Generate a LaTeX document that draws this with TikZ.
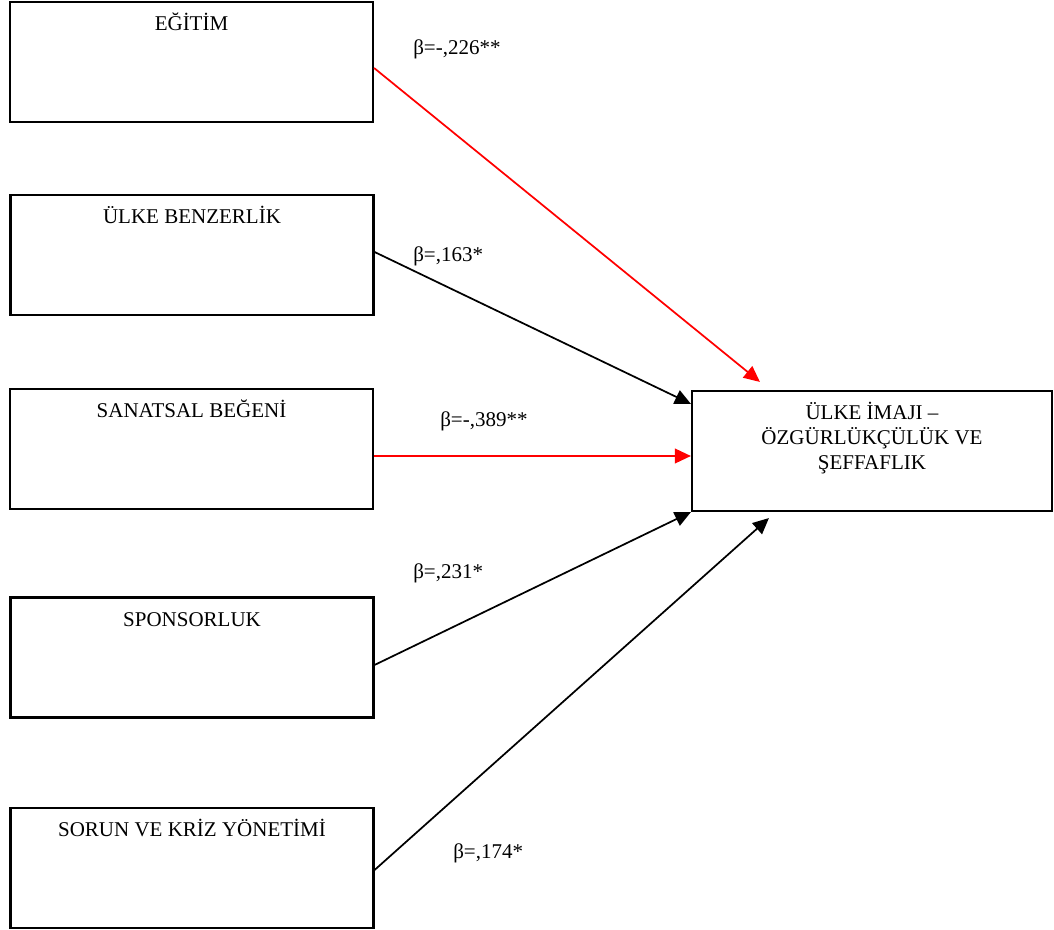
\documentclass[tikz,border=0pt]{standalone}
\usepackage{fontspec}
\setmainfont{Liberation Serif}
\usetikzlibrary{arrows.meta}
\begin{document}
\begin{tikzpicture}[x=0.75pt,y=-0.75pt,
  every node/.style={font=\fontsize{15.75}{18.75}\selectfont},
  factor/.style={draw, line width=1.6pt, minimum width=272.25pt,
    minimum height=90pt, inner sep=0pt},
  outcome/.style={factor, minimum width=270pt},
  title/.style={anchor=base, yshift=-22.5pt, align=center},
  link/.style={line width=1.3pt, -{Triangle[length=12pt,width=11pt]}},
  neg/.style={link, red},
  coef/.style={anchor=base west, inner sep=0pt}]
\path[use as bounding box] (0,0) rectangle (1054,930);

% predictor boxes
\node[factor, label={[title]north:EĞİTİM}] (b1) at (191.5,62) {};
\node[factor, label={[title]north:ÜLKE BENZERLİK}] (b2) at (192,255) {};
\node[factor, label={[title]north:SANATSAL BEĞENİ}] (b3) at (191.5,449) {};
\node[factor, label={[title]north:SPONSORLUK}] (b4) at (192,657.5) {};
\node[factor, label={[title]north:SORUN VE KRİZ YÖNETİMİ}] (b5) at (192,868) {};

% outcome box (three-line title, placed by the baseline of its last line)
\node[outcome, label={[title, yshift=-37.5pt]north:ÜLKE İMAJI –\\ÖZGÜRLÜKÇÜLÜK VE\\ŞEFFAFLIK}] (r) at (872,451) {};

% paths
\draw[neg] ([yshift=-4.5pt]b1.east) -- ([xshift=51.75pt,yshift=6pt]r.north west);
\draw[link] ([yshift=2.25pt]b2.east) -- ([yshift=-10.5pt]r.north west);
\coordinate (s3) at ([yshift=-5.25pt]b3.east);
\draw[neg] (s3) -- (s3 -| r.west);
\draw[link] ([yshift=-5.6pt]b4.east) -- (r.south west);
\draw[link] ([yshift=-1.5pt]b5.east) -- ([xshift=58.5pt,yshift=-4.5pt]r.south west);

% coefficients
\node[coef] (c1) at (413,55) {β=-,226**};
\node[coef] (c2) at (413,262) {β=,163*};
\node[coef] (c3) at (440,427) {β=-,389**};
\node[coef] (c4) at (413,579) {β=,231*};
\node[coef] (c5) at (453,858) {β=,174*};
\end{tikzpicture}
\end{document}
